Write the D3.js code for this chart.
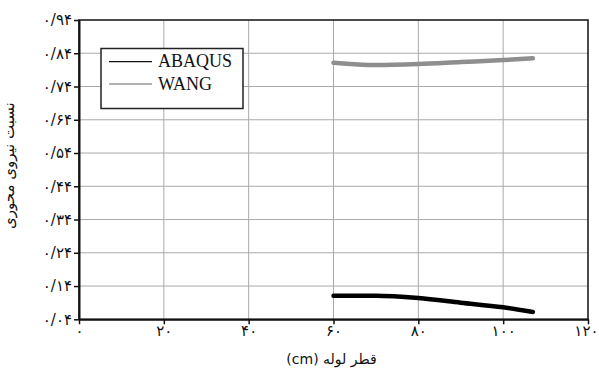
<!DOCTYPE html>
<html>
<head>
<meta charset="utf-8">
<script src="https://cdn.jsdelivr.net/npm/d3@7"></script>
<style>
  html, body { margin: 0; padding: 0; background: #fff; }
  svg { display: block; }
  .fa { font-family: "DejaVu Sans", sans-serif; }
  .en { font-family: "Liberation Serif", "Times New Roman", serif; }
</style>
</head>
<body>
<svg id="chart" width="599" height="370"></svg>
<script>
// Pipe diameter (cm) and axial force ratio for each method
const diameters = [60, 70, 80, 90, 100, 107];
const abaqus = [0.111, 0.111, 0.104, 0.090, 0.076, 0.062];
const wang = [0.8115, 0.8046, 0.8076, 0.8136, 0.8196, 0.8247];

const xTicks = [0, 20, 40, 60, 80, 100, 120];
const yTicks = [0.04, 0.14, 0.24, 0.34, 0.44, 0.54, 0.64, 0.74, 0.84, 0.94];

const seriesNames = ["ABAQUS", "WANG"];
const xTitle = "قطر لوله (cm)";
const yTitle = "نسبت نیروی محوری";

// Persian digits and decimal separator
const faDigits = "۰۱۲۳۴۵۶۷۸۹";
const toFa = s => String(s).replace(/[0-9]/g, d => faDigits[+d]);
const fmtY = v => toFa(v.toFixed(2).replace(/^0\./, "0/"));

const W = 599;
const svg = d3.select("#chart");
const m = { left: 79, right: 588, top: 20, bottom: 319.3 };

const x = d3.scaleLinear().domain([0, 120]).range([m.left, m.right]);
const y = d3.scaleLinear().domain([0.04, 0.94]).range([m.bottom, m.top]);

// grid
const grid = svg.append("g").attr("stroke", "#aaa").attr("stroke-width", 1);
grid.selectAll(".gx").data(xTicks.slice(1, -1)).join("line")
  .attr("x1", d => x(d)).attr("x2", d => x(d))
  .attr("y1", m.top).attr("y2", m.bottom);
grid.selectAll(".gy").data(yTicks.slice(1, -1)).join("line")
  .attr("x1", m.left).attr("x2", m.right)
  .attr("y1", d => y(d)).attr("y2", d => y(d));

// frame
svg.append("rect")
  .attr("x", m.left).attr("y", m.top)
  .attr("width", m.right - m.left).attr("height", m.bottom - m.top)
  .attr("fill", "none").attr("stroke", "#111").attr("stroke-width", 1.5);

// axes
const xAxis = d3.axisBottom(x).tickValues(xTicks).tickSize(5).tickSizeOuter(0)
  .tickFormat(d => toFa(d));
const gx = svg.append("g").attr("transform", `translate(0,${m.bottom})`).call(xAxis);
gx.select(".domain").attr("stroke", "#111").attr("stroke-width", 2);
gx.selectAll(".tick line").attr("stroke", "#111").attr("stroke-width", 1.5);
gx.selectAll(".tick text").attr("class", "fa").attr("font-size", 15)
  .attr("fill", "#111").attr("y", 6).attr("dy", "0.71em");
// keep the last label inside the page
gx.selectAll(".tick text").each(function (d) {
  const bb = this.getBBox();
  const right = x(d) + bb.x + bb.width;
  if (right > W - 1) d3.select(this).attr("x", (W - 1) - right);
});

const yAxis = d3.axisLeft(y).tickValues(yTicks).tickSize(5).tickSizeOuter(0)
  .tickFormat(fmtY);
const gy = svg.append("g").attr("transform", `translate(${m.left},0)`).call(yAxis);
gy.select(".domain").attr("stroke", "#111").attr("stroke-width", 2);
gy.selectAll(".tick line").attr("stroke", "#111").attr("stroke-width", 1.5);
gy.selectAll(".tick text").attr("class", "fa").attr("font-size", 15)
  .attr("fill", "#111").attr("x", -7);

// series
const line = d3.line().x((d, i) => x(diameters[i])).y(d => y(d))
  .curve(d3.curveMonotoneX);
svg.append("path").datum(wang).attr("d", line)
  .attr("fill", "none").attr("stroke", "#8e8e8e").attr("stroke-width", 4.5)
  .attr("stroke-linecap", "round");
svg.append("path").datum(abaqus).attr("d", line)
  .attr("fill", "none").attr("stroke", "#000").attr("stroke-width", 4.5)
  .attr("stroke-linecap", "round");

// legend
const lg = svg.append("g");
lg.append("rect").attr("x", 101).attr("y", 48.5).attr("width", 142).attr("height", 60)
  .attr("fill", "#fff").attr("stroke", "#222").attr("stroke-width", 1.5);
const legendColors = ["#111", "#999"];
seriesNames.forEach((name, i) => {
  const ly = 61.7 + i * 22.3;
  lg.append("line").attr("x1", 109).attr("x2", 152).attr("y1", ly).attr("y2", ly)
    .attr("stroke", legendColors[i]).attr("stroke-width", 1.3);
  lg.append("text").attr("class", "en").attr("x", 158).attr("y", ly + 5.5)
    .attr("font-size", 18).attr("fill", "#111").text(name);
});

// titles
svg.append("text").attr("class", "fa").attr("x", (m.left + m.right) / 2 - 2).attr("y", 364)
  .attr("text-anchor", "middle").attr("font-size", 14).attr("fill", "#111")
  .attr("direction", "rtl").style("unicode-bidi", "plaintext").text(xTitle);
svg.append("text").attr("class", "fa")
  .attr("transform", `translate(14,${(m.top + m.bottom) / 2 - 4}) rotate(-90)`)
  .attr("text-anchor", "middle").attr("font-size", 15).attr("fill", "#111")
  .text(yTitle);
</script>
</body>
</html>
